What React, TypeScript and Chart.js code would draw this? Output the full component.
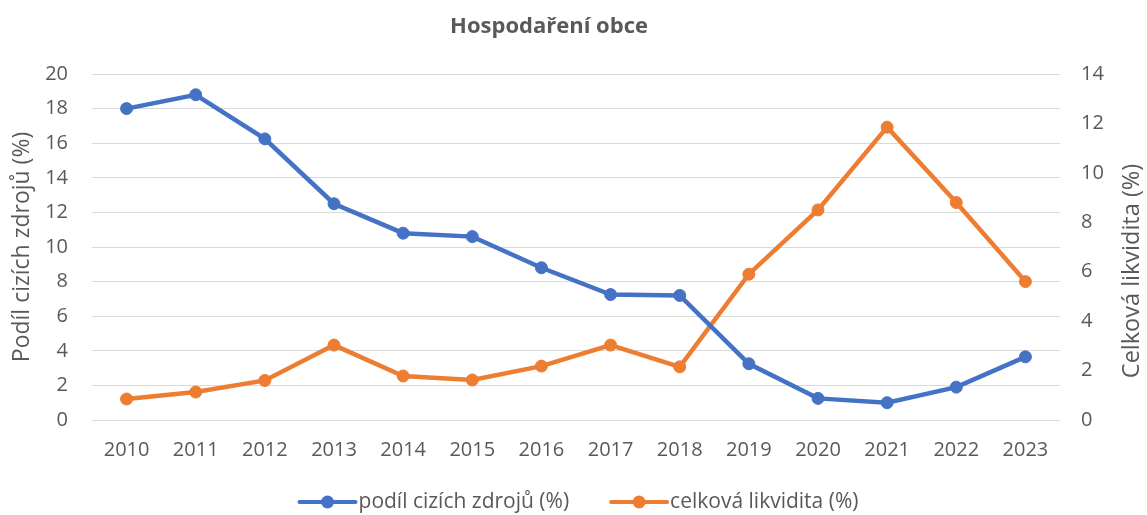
import { useEffect, useRef } from 'react';
import { Chart, registerables } from 'chart.js';

Chart.register(...registerables);

const chartTitle = 'Hospodaření obce';
const years = ['2010', '2011', '2012', '2013', '2014', '2015', '2016', '2017', '2018', '2019', '2020', '2021', '2022', '2023'];
const podilLabel = 'podíl cizích zdrojů (%)';
const likviditaLabel = 'celková likvidita (%)';
const leftAxisTitle = 'Podíl cizích zdrojů (%)';
const rightAxisTitle = 'Celková likvidita (%)';
const podilCizichZdroju = [18.0, 18.8, 16.25, 12.5, 10.8, 10.6, 8.8, 7.25, 7.2, 3.25, 1.25, 1.0, 1.9, 3.65];
const celkovaLikvidita = [0.85, 1.13, 1.6, 3.03, 1.78, 1.62, 2.18, 3.03, 2.15, 5.9, 8.5, 11.85, 8.8, 5.6];

const FONT = '"Open Sans", "Noto Sans", sans-serif';
const TEXT = '#595959';
const BLUE = '#4472C4';
const ORANGE = '#ED7D31';

const overlay = {
  id: 'overlay',
  afterDraw(chart: any) {
    const ctx = chart.ctx as CanvasRenderingContext2D;
    ctx.save();
    ctx.fillStyle = TEXT;
    ctx.textAlign = 'center';
    ctx.textBaseline = 'middle';
    ctx.font = `bold 22px ${FONT}`;
    ctx.fillText(chartTitle, 549, 27);

    ctx.font = `23px ${FONT}`;
    ctx.save();
    ctx.translate(22, 247);
    ctx.rotate(-Math.PI / 2);
    ctx.fillText(leftAxisTitle, 0, 0);
    ctx.restore();
    ctx.font = `23.5px ${FONT}`;
    ctx.save();
    ctx.translate(1132, 271);
    ctx.rotate(-Math.PI / 2);
    ctx.fillText(rightAxisTitle, 0, 0);
    ctx.restore();

    // legend
    ctx.font = `21px ${FONT}`;
    const items = chart.data.datasets.map((d: any) => ({ label: d.label, color: d.borderColor }));
    const lineW = 56;
    const gapText = 3;
    const gapItems = 42;
    const widths = items.map((it: any) => lineW + gapText + ctx.measureText(it.label).width);
    const total = widths.reduce((a: number, b: number) => a + b, 0) + gapItems * (items.length - 1);
    let x = 579 - total / 2;
    const y = 502;
    ctx.textAlign = 'left';
    items.forEach((it: any, i: number) => {
      ctx.strokeStyle = it.color;
      ctx.lineWidth = 4;
      ctx.lineCap = 'round';
      ctx.beginPath();
      ctx.moveTo(x, y);
      ctx.lineTo(x + lineW, y);
      ctx.stroke();
      ctx.fillStyle = it.color;
      ctx.beginPath();
      ctx.arc(x + lineW / 2, y, 6.5, 0, Math.PI * 2);
      ctx.fill();
      ctx.fillStyle = TEXT;
      ctx.fillText(it.label, x + lineW + gapText, y);
      x += widths[i] + gapItems;
    });
    ctx.restore();
  },
};

export default function App() {
  const ref = useRef<HTMLCanvasElement | null>(null);
  useEffect(() => {
    document.body.style.margin = '0';
    if (!ref.current) return;
    const chart = new Chart(ref.current, {
      type: 'line',
      data: {
        labels: years,
        datasets: [
          {
            label: podilLabel,
            data: podilCizichZdroju,
            borderColor: BLUE,
            backgroundColor: BLUE,
            borderWidth: 4.5,
            pointRadius: 6,
            pointBorderWidth: 1,
            pointBackgroundColor: BLUE,
            pointBorderColor: BLUE,
            yAxisID: 'y',
            tension: 0,
          },
          {
            label: likviditaLabel,
            data: celkovaLikvidita,
            borderColor: ORANGE,
            backgroundColor: ORANGE,
            borderWidth: 4.5,
            pointRadius: 6,
            pointBorderWidth: 1,
            pointBackgroundColor: ORANGE,
            pointBorderColor: ORANGE,
            yAxisID: 'y1',
            tension: 0,
          },
        ],
      },
      options: {
        responsive: false,
        animation: false,
        layout: { padding: { top: 74, left: 0, right: 0, bottom: 0 } },
        plugins: {
          legend: { display: false },
          title: { display: false },
          tooltip: { enabled: false },
        },
        scales: {
          x: {
            offset: true,
            grid: { display: false, drawTicks: false, offset: true },
            border: { display: false },
            ticks: { color: TEXT, font: { family: FONT, size: 20 }, padding: 18, maxRotation: 0 },
            afterFit: (s: any) => { s.height = 95; },
          },
          y: {
            position: 'left',
            min: 0,
            max: 20,
            ticks: { stepSize: 2, color: TEXT, font: { family: FONT, size: 20 }, padding: 24 },
            grid: { color: '#d9d9d9', lineWidth: 1, drawTicks: false },
            border: { display: false },
            afterFit: (s: any) => { s.width = 92; },
          },
          y1: {
            position: 'right',
            min: 0,
            max: 14,
            ticks: { stepSize: 2, color: TEXT, font: { family: FONT, size: 20 }, padding: 21 },
            grid: { drawOnChartArea: false, drawTicks: false },
            border: { display: false },
            afterFit: (s: any) => { s.width = 87; },
          },
        },
      },
      plugins: [overlay],
    });
    return () => chart.destroy();
  }, []);
  return <canvas ref={ref} width={1147} height={515} />;
}
